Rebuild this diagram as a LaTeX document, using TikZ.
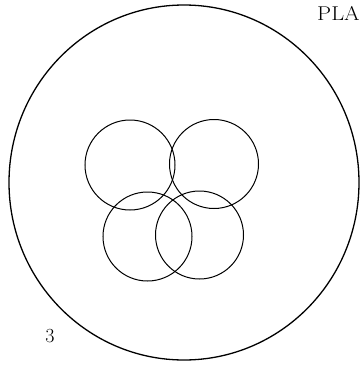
\documentclass[tikz,border=0pt]{standalone}
\usepackage{tikz}
\usetikzlibrary{positioning}

\begin{document}
\begin{tikzpicture}[
  x=1pt, y=-1pt,
  rim/.style  = {draw, line width=1.3pt},
  ring/.style = {draw, line width=1pt},
  lbl/.style  = {inner sep=0pt, font=\fontsize{20}{24}\selectfont},
]
  \useasboundingbox (0,0) rectangle (363,365);

  \draw[rim] (184,182.5) ellipse[x radius=175, y radius=177.5];

  \foreach \cx/\cy/\r in {130/165/45, 214/164/44.5, 147.5/236.5/44.5, 199.5/235/44}
    \draw[ring] (\cx,\cy) circle[radius=\r];

  \node[lbl, anchor=base west, xscale=1.12] (plate) at (317,20)  {PLA};
  \node[lbl, anchor=base]                   (num)   at (50,342)  {3};
\end{tikzpicture}
\end{document}
